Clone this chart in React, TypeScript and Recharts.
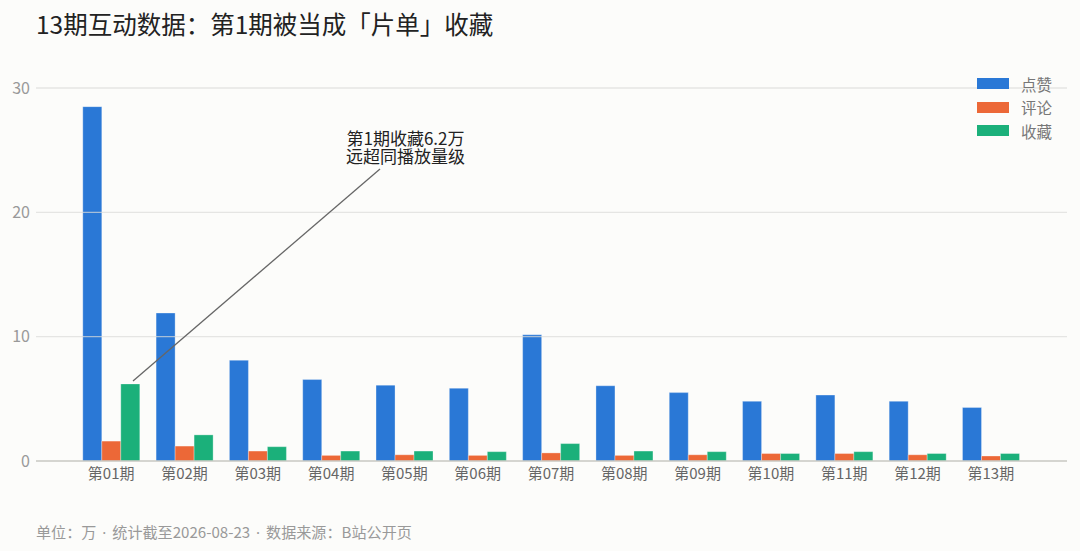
import { BarChart, Bar, XAxis, YAxis, ReferenceLine } from "recharts";

const FONT = '"Noto Sans CJK SC", "Noto Sans", sans-serif';

const categories = ["第01期", "第02期", "第03期", "第04期", "第05期", "第06期", "第07期", "第08期", "第09期", "第10期", "第11期", "第12期", "第13期"];
const likes = [28.5, 11.9, 8.1, 6.55, 6.1, 5.85, 10.15, 6.05, 5.5, 4.8, 5.3, 4.8, 4.3];
const comments = [1.6, 1.2, 0.8, 0.45, 0.5, 0.45, 0.65, 0.45, 0.5, 0.6, 0.6, 0.5, 0.4];
const favorites = [6.2, 2.1, 1.15, 0.8, 0.8, 0.75, 1.4, 0.8, 0.75, 0.6, 0.75, 0.6, 0.6];
const yTicks = [0, 10, 20, 30];

const titleText = "13期互动数据\uFF1A第1期被当成「片单」收藏";
const noteLines = ["第1期收藏6.2万", "远超同播放量级"];

const seriesInfo = [
  { key: "likes", name: "点赞", color: "#2a78d6" },
  { key: "comments", name: "评论", color: "#ec6837" },
  { key: "favorites", name: "收藏", color: "#1bb07a" },
];

const data = categories.map((c, i) => ({
  name: c,
  likes: likes[i],
  comments: comments[i],
  favorites: favorites[i],
}));

const Dot = () => <span style={{ fontFamily: '"Noto Sans", sans-serif', padding: "0 2px" }}> · </span>;

export default function App() {
  return (
    <div style={{ position: "absolute", left: 0, top: 0, width: 1080, height: 551, background: "#fcfcfa", fontFamily: FONT, overflow: "hidden" }}>
      <div style={{ position: "absolute", left: 36, top: 6, fontSize: 24.5, lineHeight: "36px", color: "#222", whiteSpace: "nowrap" }}>
        {titleText}
      </div>
      <BarChart
        width={1080}
        height={551}
        data={data}
        margin={{ top: 88, right: 13, bottom: 60, left: 2 }}
        barCategoryGap={7.8}
        barGap={0}
      >
        <XAxis
          dataKey="name"
          interval={0}
          padding={{ left: 39, right: 39 }}
          tickLine={false}
          tickMargin={1}
          height={30}
          axisLine={{ stroke: "#c8c8c2", strokeWidth: 1.3 }}
          tick={{ fill: "#666", fontSize: 15, fontFamily: FONT, dx: -0.5 }}
        />
        <YAxis
          width={34}
          domain={[0, 30]}
          ticks={yTicks}
          axisLine={false}
          tickLine={false}
          tickMargin={0}
          tick={{ fill: "#999", fontSize: 16, fontFamily: FONT }}
        />
        {seriesInfo.map((s) => (
          <Bar key={s.key} dataKey={s.key} name={s.name} fill={s.color} stroke="#ffffff" strokeOpacity={0.5} strokeWidth={0.6} isAnimationActive={false} />
        ))}
        {yTicks.slice(1).map((t) => (
          <ReferenceLine key={t} y={t} stroke="#dcdcd8" strokeOpacity={0.7} strokeWidth={1.3} />
        ))}
      </BarChart>
      {/* annotation sits above the bars, the leader line crosses the 第02期 bar */}
      <svg width={1080} height={551} style={{ position: "absolute", left: 0, top: 0, pointerEvents: "none" }}>
        <line x1={133} y1={381} x2={380} y2={169} stroke="#666" strokeWidth={1.3} />
        <text textAnchor="middle" fontSize={17} fill="#222" fontFamily={FONT}>
          <tspan x={405.5} y={145}>{noteLines[0]}</tspan>
          <tspan x={405.5} y={163}>{noteLines[1]}</tspan>
        </text>
      </svg>
      <div style={{ position: "absolute", left: 977, top: 72 }}>
        {seriesInfo.map((s) => (
          <div key={s.key} style={{ display: "flex", alignItems: "center", height: 23.5 }}>
            <span style={{ width: 32, height: 11, background: s.color, marginRight: 12 }} />
            <span style={{ fontSize: 15.5, color: "#777" }}>{s.name}</span>
          </div>
        ))}
      </div>
      <div style={{ position: "absolute", left: 36, top: 519, fontSize: 15.1, lineHeight: "24px", color: "#999", whiteSpace: "nowrap" }}>
        {"单位\uFF1A万"}<Dot />{"统计截至2026-08-23"}<Dot />{"数据来源\uFF1AB站公开页"}
      </div>
    </div>
  );
}
